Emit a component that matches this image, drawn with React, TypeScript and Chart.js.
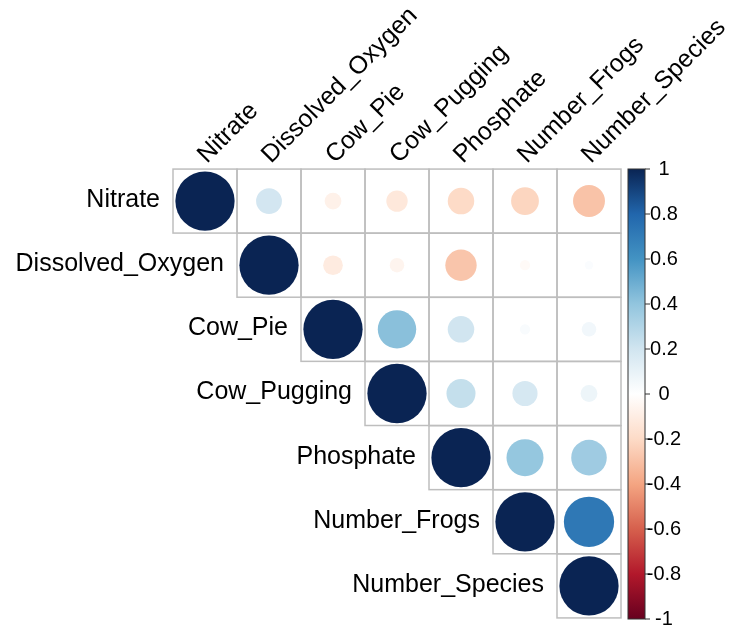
import { useEffect, useRef } from "react";
import { Chart, registerables } from "chart.js";

Chart.register(...registerables);

const variables = [
  "Nitrate",
  "Dissolved_Oxygen",
  "Cow_Pie",
  "Cow_Pugging",
  "Phosphate",
  "Number_Frogs",
  "Number_Species",
];

// Upper-triangle correlations, each row starting at its diagonal cell
const rowNitrate = [1, 0.19, -0.08, -0.13, -0.2, -0.22, -0.29];
const rowDissolvedOxygen = [1, -0.11, -0.06, -0.28, -0.03, 0.02];
const rowCowPie = [1, 0.42, 0.2, 0.03, 0.06];
const rowCowPugging = [1, 0.24, 0.18, 0.08];
const rowPhosphate = [1, 0.39, 0.36];
const rowNumberFrogs = [1, 0.72];
const rowNumberSpecies = [1];

const rows = [
  rowNitrate,
  rowDissolvedOxygen,
  rowCowPie,
  rowCowPugging,
  rowPhosphate,
  rowNumberFrogs,
  rowNumberSpecies,
];

const legendTicks = [1, 0.8, 0.6, 0.4, 0.2, 0, -0.2, -0.4, -0.6, -0.8, -1];

// RdBu diverging palette from -1 (first) to 1 (last)
const paletteStops = [
  "#67001F",
  "#B2182B",
  "#D6604D",
  "#F4A582",
  "#FDDBC7",
  "#FFFFFF",
  "#D1E5F0",
  "#92C5DE",
  "#4393C3",
  "#2166AC",
  "#0A2453",
];

const FONT = "'Liberation Sans', Arial, Helvetica, sans-serif";

function hexToRgb(h: string): number[] {
  const n = parseInt(h.slice(1), 16);
  return [(n >> 16) & 255, (n >> 8) & 255, n & 255];
}

function colorFor(v: number): string {
  const t = ((Math.max(-1, Math.min(1, v)) + 1) / 2) * (paletteStops.length - 1);
  const i = Math.min(paletteStops.length - 2, Math.floor(t));
  const f = t - i;
  const a = hexToRgb(paletteStops[i]);
  const b = hexToRgb(paletteStops[i + 1]);
  const c = a.map((x, k) => Math.round(x + (b[k] - x) * f));
  return `rgb(${c[0]},${c[1]},${c[2]})`;
}

const cellPoints = rows.flatMap((row, i) =>
  row.map((v, k) => ({ x: i + k, y: i, v }))
);

// circle area proportional to |r|; the full circle nearly fills its cell
function circleRadius(ctx: any): number {
  const raw = ctx.raw;
  if (!raw) return 0;
  const xs = ctx.chart.scales.x;
  if (!xs) return 0;
  const cell = Math.abs(xs.getPixelForValue(1) - xs.getPixelForValue(0));
  const r = Math.sqrt(Math.abs(raw.v)) * cell * 0.463;
  return Number.isFinite(r) ? r : 0;
}

const corrDecorations = {
  id: "corrDecorations",
  beforeDatasetsDraw(chart: any) {
    const { ctx, scales } = chart;
    const xs = scales.x;
    const ys = scales.y;
    const cell = xs.getPixelForValue(1) - xs.getPixelForValue(0);
    ctx.save();
    ctx.strokeStyle = "#BEBEBE";
    ctx.lineWidth = 1.5;
    rows.forEach((row, i) => {
      row.forEach((_, k) => {
        const cx = xs.getPixelForValue(i + k);
        const cy = ys.getPixelForValue(i);
        ctx.strokeRect(cx - cell / 2, cy - cell / 2, cell, cell);
      });
    });
    ctx.restore();
  },
  afterDatasetsDraw(chart: any) {
    const { ctx, scales, chartArea } = chart;
    const xs = scales.x;
    const ys = scales.y;
    const cell = xs.getPixelForValue(1) - xs.getPixelForValue(0);
    ctx.save();
    ctx.fillStyle = "#000000";
    ctx.font = `25px ${FONT}`;

    // row labels, ending just left of each diagonal cell
    ctx.textAlign = "right";
    ctx.textBaseline = "middle";
    variables.forEach((name, i) => {
      const x = xs.getPixelForValue(i) - cell / 2 - 13;
      const y = ys.getPixelForValue(i) - 1;
      ctx.fillText(name, x, y);
    });

    // column labels, rotated 45 degrees above each column
    ctx.textAlign = "left";
    ctx.textBaseline = "alphabetic";
    variables.forEach((name, j) => {
      const x = xs.getPixelForValue(j) + 2;
      const y = chartArea.top - 5;
      ctx.save();
      ctx.translate(x, y);
      ctx.rotate(-Math.PI / 4);
      ctx.fillText(name, 0, 0);
      ctx.restore();
    });

    // colour legend
    const barLeft = chartArea.right + 7;
    const barWidth = 17;
    const barTop = chartArea.top;
    const barBottom = chartArea.bottom + 1;
    const grad = ctx.createLinearGradient(0, barTop, 0, barBottom);
    const n = paletteStops.length;
    paletteStops.forEach((c, k) => {
      grad.addColorStop(1 - k / (n - 1), c);
    });
    ctx.fillStyle = grad;
    ctx.fillRect(barLeft, barTop, barWidth, barBottom - barTop);
    ctx.strokeStyle = "#333333";
    ctx.lineWidth = 1;
    ctx.strokeRect(barLeft, barTop, barWidth, barBottom - barTop);

    ctx.font = `20px ${FONT}`;
    ctx.fillStyle = "#000000";
    ctx.textAlign = "center";
    ctx.textBaseline = "middle";
    legendTicks.forEach((t) => {
      const y = barTop + ((1 - t) / 2) * (barBottom - barTop);
      ctx.beginPath();
      ctx.moveTo(barLeft + barWidth, y);
      ctx.lineTo(barLeft + barWidth + 5, y);
      ctx.stroke();
      ctx.fillText(String(t), barLeft + barWidth + 19, y);
    });
    ctx.restore();
  },
};

export default function App() {
  const canvasRef = useRef<HTMLCanvasElement | null>(null);

  useEffect(() => {
    const canvas = canvasRef.current;
    if (!canvas) return;
    const chart = new Chart(canvas, {
      type: "scatter",
      data: {
        datasets: [
          {
            data: cellPoints as any,
            showLine: false,
            pointBackgroundColor: (ctx: any) => colorFor(ctx.raw ? ctx.raw.v : 0),
            pointBorderWidth: 0,
            pointHoverBorderWidth: 0,
            pointRadius: circleRadius,
            pointHoverRadius: circleRadius,
            clip: false as any,
          } as any,
        ],
      },
      options: {
        responsive: false,
        animation: false,
        events: [],
        layout: {
          autoPadding: false,
          padding: { left: 173, top: 169, right: 109, bottom: 11 },
        },
        scales: {
          x: { type: "linear", min: -0.5, max: 6.5, display: false },
          y: { type: "linear", min: -0.5, max: 6.5, reverse: true, display: false },
        },
        plugins: {
          legend: { display: false },
          tooltip: { enabled: false },
        },
      },
      plugins: [corrDecorations],
    });
    return () => chart.destroy();
  }, []);

  return (
    <div style={{ position: "absolute", left: 0, top: 0, width: 730, height: 629, background: "#ffffff" }}>
      <canvas ref={canvasRef} width={730} height={629} style={{ display: "block" }} />
    </div>
  );
}
